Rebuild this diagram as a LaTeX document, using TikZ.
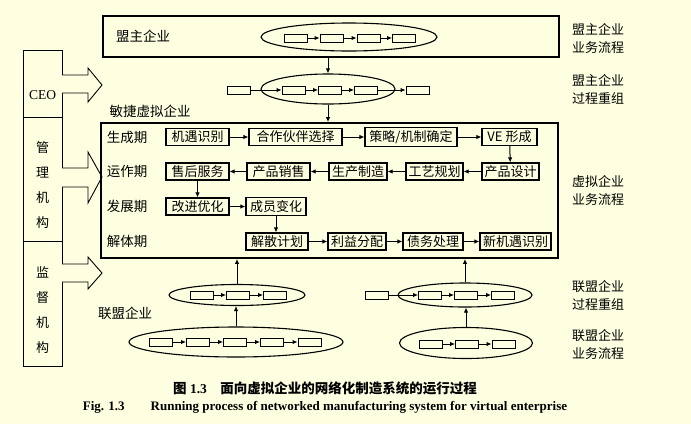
\documentclass[tikz,border=0pt]{standalone}
\usepackage{fontspec}
\setmainfont{Liberation Serif}
\newfontfamily\cjk{Noto Sans CJK SC}
\usetikzlibrary{shapes.geometric,arrows.meta}
\definecolor{fondo}{RGB}{254,254,224}

\begin{document}
\begin{tikzpicture}[x=1pt, y=-1pt,
		caja/.style={draw, line width=1.1pt, inner sep=2.5pt, minimum height=15pt, font=\cjk\fontsize{13}{14}\selectfont},
		mini/.style={draw, line width=0.9pt, minimum width=23pt, minimum height=8pt, inner sep=0pt},
		elipse/.style={ellipse, draw, line width=1.1pt, inner sep=0pt},
		marco/.style={draw, line width=1.8pt, inner sep=0pt},
		columna/.style={draw, line width=0.9pt, inner sep=0pt, minimum width=39pt},
		vertical/.style={align=center, font=\cjk\fontsize{13}{25}\selectfont},
		texto/.style={font=\cjk\fontsize{13.5}{14}\selectfont},
		rotulo/.style={font=\cjk\fontsize{13}{18}\selectfont, align=left},
		flecha/.style={line width=1pt, -{Latex[length=5pt, width=4.5pt]}},
		gorda/.style={draw, line width=0.9pt, fill=fondo}]
	\fill[fondo] (0,0) rectangle (691,424);
	\useasboundingbox (0,0) rectangle (691,424);
	% columna izquierda
	\node[columna, minimum height=67pt] (ceo) at (42.5,83.5) {};
	\node[columna, minimum height=124pt] (gl) at (42.5,179) {};
	\node[columna, minimum height=125pt] (jd) at (42.5,303.5) {};
	\node[font=\fontsize{13.5}{14}\selectfont] (ceot) at (42.5,95) {CEO};
	\node[vertical] (glt) at (42.5,185) {管\\理\\机\\构};
	\node[vertical] (jdt) at (42.5,310) {监\\督\\机\\构};
	\draw[gorda] (62,75) -- (88,75) -- (88,68) -- (102,85) -- (88,102) -- (88,93) -- (62,93);
	\draw[gorda] (62,168) -- (88,168) -- (88,152) -- (102,177) -- (88,203) -- (88,187) -- (62,187);
	\draw[gorda] (62,264) -- (88,264) -- (88,257) -- (102,273) -- (88,289) -- (88,282) -- (62,282);
	%盟主企业
	\node[marco, minimum width=456pt, minimum height=41pt] (mz) at (331,36.5) {};
	\node[texto] (mzt) at (143,36) {盟主企业};
	\node[elipse, minimum width=176pt, minimum height=28pt] (e1) at (349,37) {};
	\node[mini] (a1) at (296,38) {};
	\node[mini] (a2) at (331.5,38) {};
	\node[mini] (a3) at (368.5,38) {};
	\node[mini] (a4) at (404,38) {};
	\draw[flecha] (a1) -- (a2);
	\draw[flecha] (a2) -- (a3);
	\draw[flecha] (a3) -- (a4);
	\node[elipse, minimum width=134pt, minimum height=30pt] (e2) at (328,89) {};
	\node[mini] (b0) at (239,90) {};
	\node[mini] (b1) at (293.5,90) {};
	\node[mini] (b2) at (330,90) {};
	\node[mini] (b3) at (366,90) {};
	\node[mini] (b4) at (417.5,90) {};
	\draw[flecha] (b0) -- (b1);
	\draw[flecha] (b1) -- (b2);
	\draw[flecha] (b2) -- (b3);
	\draw[flecha] (b3) -- (b4);
	\draw[flecha] (e2.north |- mz.south) -- (e2.north);
	% 敏捷虚拟企业
	\node[texto] (vbt) at (150,111) {敏捷虚拟企业};
	\node[marco, minimum width=457pt, minimum height=135pt] (vb) at (329.5,190.5) {};
	\draw[flecha] (e2.south) -- (e2.south |- vb.north);
	\node[texto] (f1) at (127,137) {生成期};
	\node[texto] (f2) at (127,171) {运作期};
	\node[texto] (f3) at (127,206) {发展期};
	\node[texto] (f4) at (127,241) {解体期};
	\node[caja, minimum width=63pt] (jy)  at (197.5,137) {机遇识别};
	\node[caja, minimum width=93pt] (hz)  at (295.5,137) {合作伙伴选择};
	\node[caja, minimum width=92pt] (cl)  at (411,137) {策略/机制确定};
	\node[caja, minimum width=55pt] (ve)  at (509.5,137) {VE 形成};
	\node[caja, minimum width=63pt] (sh)  at (197.5,171.5) {售后服务};
	\node[caja, minimum width=63pt] (xs)  at (278.5,171.5) {产品销售};
	\node[caja, minimum width=58pt] (sc)  at (358,171.5) {生产制造};
	\node[caja, minimum width=57pt] (gy)  at (434.5,171.5) {工艺规划};
	\node[caja, minimum width=57pt] (sj)  at (510.5,171.5) {产品设计};
	\node[caja, minimum width=63pt] (gj)  at (197.5,206.5) {改进优化};
	\node[caja, minimum width=60pt] (cy)  at (276,206.5) {成员变化};
	\node[caja, minimum width=62pt] (js)  at (277,241.5) {解散计划};
	\node[caja, minimum width=58pt] (ly)  at (357,241.5) {利益分配};
	\node[caja, minimum width=60pt] (zw)  at (433,241.5) {债务处理};
	\node[caja, minimum width=71pt] (xj)  at (515.5,241.5) {新机遇识别};
	\draw[flecha] (jy) -- (hz);
	\draw[flecha] (hz) -- (cl);
	\draw[flecha] (cl) -- (ve);
	\draw[flecha] (ve) -- (sj);
	\draw[flecha] (sj) -- (gy);
	\draw[flecha] (gy) -- (sc);
	\draw[flecha] (sc) -- (xs);
	\draw[flecha] (xs) -- (sh);
	\draw[flecha] (sh) -- (gj);
	\draw[flecha] (gj) -- (cy);
	\draw[flecha] (cy.south) -- (cy.south |- js.north);
	\draw[flecha] (js) -- (ly);
	\draw[flecha] (ly) -- (zw);
	\draw[flecha] (zw) -- (xj);
	% 联盟企业
	\node[texto] (lmt) at (125,313) {联盟企业};
	\node[elipse, minimum width=136pt, minimum height=21pt] (e3) at (237,295) {};
	\node[mini] (c1) at (201.5,295) {};
	\node[mini] (c2) at (238,295) {};
	\node[mini] (c3) at (275,295) {};
	\draw[flecha] (c1) -- (c2);
	\draw[flecha] (c2) -- (c3);
	\node[elipse, minimum width=214pt, minimum height=30pt] (e4) at (236,342) {};
	\node[mini] (d1) at (160.5,342) {};
	\node[mini] (d2) at (198,342) {};
	\node[mini] (d3) at (235,342) {};
	\node[mini] (d4) at (272,342) {};
	\node[mini] (d5) at (309.5,342) {};
	\draw[flecha] (d1) -- (d2);
	\draw[flecha] (d2) -- (d3);
	\draw[flecha] (d3) -- (d4);
	\draw[flecha] (d4) -- (d5);
	\draw[flecha] (e3.north) -- (e3.north |- vb.south);
	\draw[flecha] (e4.north) -- (e4.north |- e3.south);
	\node[elipse, minimum width=134pt, minimum height=24pt] (e5) at (465,295) {};
	\node[mini] (g0) at (376.5,295) {};
	\node[mini] (g1) at (430,295) {};
	\node[mini] (g2) at (466,295) {};
	\node[mini] (g3) at (503,295) {};
	\draw[flecha] (g0) -- (g1);
	\draw[flecha] (g1) -- (g2);
	\draw[flecha] (g2) -- (g3);
	\node[elipse, minimum width=133pt, minimum height=31pt] (e6) at (466,343) {};
	\node[mini] (h1) at (430.5,344) {};
	\node[mini] (h2) at (467,344) {};
	\node[mini] (h3) at (503.5,344) {};
	\draw[flecha] (h1) -- (h2);
	\draw[flecha] (h2) -- (h3);
	\draw[flecha] (e5.north) -- (e5.north |- vb.south);
	\draw[flecha] (e6.north) -- (e6.north |- e5.south);
	% rotulos derecha
	\node[rotulo] (r1) at (598,38) {盟主企业\\业务流程};
	\node[rotulo] (r2) at (598,89) {盟主企业\\过程重组};
	\node[rotulo] (r3) at (598,190) {虚拟企业\\业务流程};
	\node[rotulo] (r4) at (598,295) {联盟企业\\过程重组};
	\node[rotulo] (r5) at (598,344) {联盟企业\\业务流程};
	% pie
	\node[font=\bfseries\fontsize{13.5}{15}\selectfont] (pie1) at (325,388) {{\cjk 图} 1.3\quad{\cjk 面向虚拟企业的网络化制造系统的运行过程}};
	\node[font=\bfseries\fontsize{13}{15}\selectfont] (pie2) at (325,407) {Fig. 1.3\quad\quad Running process of networked manufacturing system for virtual enterprise};
\end{tikzpicture}
\end{document}
